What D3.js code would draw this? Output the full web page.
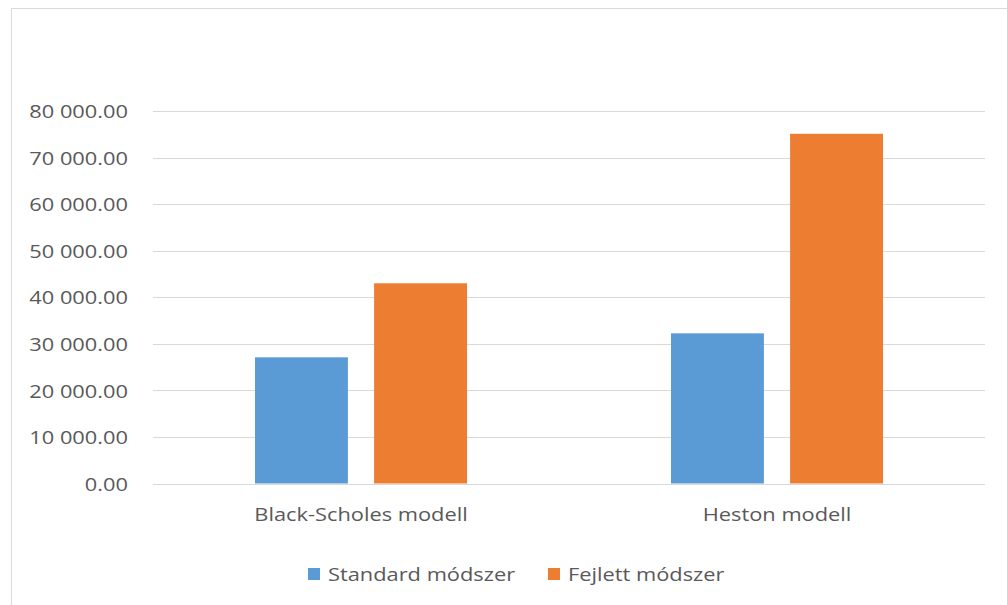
<!DOCTYPE html>
<html>
<head>
<meta charset="utf-8">
<script src="https://cdn.jsdelivr.net/npm/d3@7"></script>
<style>
  html, body { margin: 0; padding: 0; background: #fff; }
  svg { display: block; }
  text { font-family: "Open Sans", "Noto Sans", sans-serif; fill: #595959; }
</style>
</head>
<body>
<svg id="chart" width="1007" height="605"></svg>
<script>
// Chart data
const categories = ["Black-Scholes modell", "Heston modell"];
const seriesNames = ["Standard módszer", "Fejlett módszer"];
const standardValues = [27100, 32250];
const advancedValues = [43000, 75100];
const yTicks = [0, 10000, 20000, 30000, 40000, 50000, 60000, 70000, 80000];
const seriesColors = ["#5B9BD5", "#ED7D31"];

const seriesValues = [standardValues, advancedValues];

const svg = d3.select("#chart");
const W = 1007, H = 605;
const FONT_SIZE = 18.5;
const STRETCH = 1.18; // wide label lettering

// Chart frame (right and bottom edges fall outside the view)
svg.append("rect")
  .attr("x", 11.5).attr("y", 8.5)
  .attr("width", W).attr("height", H)
  .attr("fill", "#fff")
  .attr("stroke", "#D9D9D9").attr("stroke-width", 1);

const plot = { left: 153, right: 985, top: 111, bottom: 483.5 };

const y = d3.scaleLinear().domain([0, 80000]).range([plot.bottom, plot.top]);
const x0 = d3.scaleBand().domain(categories).range([plot.left, plot.right]).paddingInner(0).paddingOuter(0);
const groupWidth = 212;
const x1 = d3.scaleBand().domain(seriesNames).range([0, groupWidth]).paddingInner(0.22).paddingOuter(0);

// Gridlines
svg.append("g")
  .selectAll("line")
  .data(yTicks)
  .join("line")
  .attr("x1", plot.left).attr("x2", plot.right)
  .attr("y1", d => Math.round(y(d)) + 0.5).attr("y2", d => Math.round(y(d)) + 0.5)
  .attr("stroke", "#D9D9D9").attr("stroke-width", 1);

// Y axis labels
const fmt = v => d3.format(",.2f")(v).replace(/,/g, " ");
const yAxis = d3.axisLeft(y).tickValues(yTicks).tickFormat(fmt).tickSize(0).tickPadding(0);
const yg = svg.append("g").attr("transform", `translate(128,0)`).call(yAxis);
yg.select(".domain").remove();
yg.selectAll("text")
  .attr("font-family", "\"Open Sans\", sans-serif")
  .attr("font-size", FONT_SIZE)
  .attr("fill", "#595959")
  .attr("x", 0)
  .attr("dy", "0.36em")
  .attr("transform", `scale(${STRETCH},1)`);

// Bars
const groups = svg.append("g")
  .selectAll("g")
  .data(categories)
  .join("g")
  .attr("transform", d => `translate(${x0(d) + (x0.bandwidth() - groupWidth) / 2},0)`);

groups.selectAll("rect")
  .data((c, i) => seriesNames.map((s, j) => ({ s, j, v: seriesValues[j][i] })))
  .join("rect")
  .attr("x", d => x1(d.s))
  .attr("width", x1.bandwidth())
  .attr("y", d => y(d.v))
  .attr("height", d => y(0) - y(d.v))
  .attr("fill", d => seriesColors[d.j]);

// Category axis labels
const xAxis = d3.axisBottom(x0).tickSize(0).tickPadding(0);
const xg = svg.append("g").attr("transform", `translate(0,508)`).call(xAxis);
xg.select(".domain").remove();
xg.selectAll("text")
  .attr("font-family", "\"Open Sans\", sans-serif")
  .attr("font-size", FONT_SIZE)
  .attr("fill", "#595959")
  .attr("dy", "0.71em")
  .attr("transform", `scale(${STRETCH},1)`);

// Legend
const legendItems = [
  { name: seriesNames[0], color: seriesColors[0], x: 308 },
  { name: seriesNames[1], color: seriesColors[1], x: 548 }
];
const legend = svg.append("g");
const li = legend.selectAll("g").data(legendItems).join("g")
  .attr("transform", d => `translate(${d.x},568)`);
li.append("rect").attr("width", 12).attr("height", 12).attr("fill", d => d.color);
li.append("g")
  .attr("transform", `translate(20,6) scale(${STRETCH},1)`)
  .append("text")
  .attr("dy", "0.36em")
  .attr("font-size", FONT_SIZE)
  .text(d => d.name);
</script>
</body>
</html>
